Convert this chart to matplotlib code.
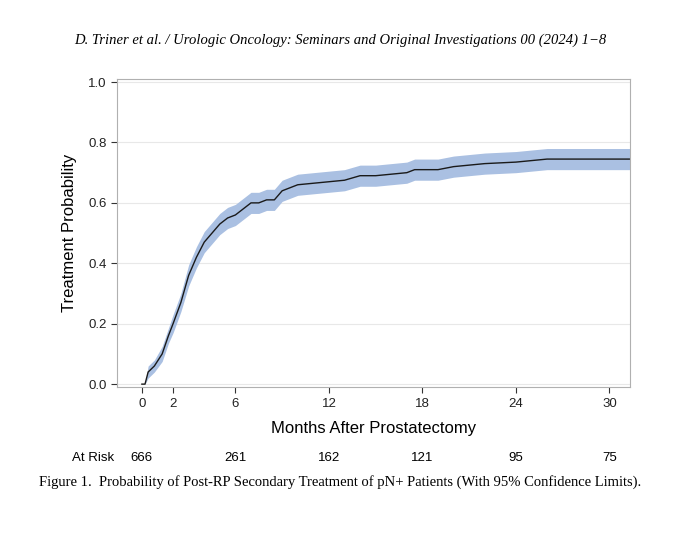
import matplotlib.pyplot as plt
import numpy as np

plt.rcParams['font.family'] = ['Liberation Sans', 'DejaVu Sans']

# curve (months, probability)
months = [0, 0.2, 0.4, 0.8, 1.3, 1.7, 2.0, 2.5, 3.0, 3.5, 4.0, 4.5, 5.0, 5.5, 6.0,
          6.5, 7.0, 7.5, 8.0, 8.5, 9.0, 9.5, 10, 11, 12, 13, 14, 15, 16, 17,
          17.5, 19, 20, 21, 22, 24, 25, 26, 27, 31.3]
prob = [0, 0.0, 0.04, 0.06, 0.10, 0.16, 0.20, 0.27, 0.36, 0.42, 0.47, 0.50, 0.53,
        0.55, 0.56, 0.58, 0.60, 0.60, 0.61, 0.61, 0.64, 0.65, 0.66, 0.665, 0.67,
        0.675, 0.69, 0.69, 0.695, 0.70, 0.71, 0.71, 0.72, 0.725, 0.73, 0.735,
        0.74, 0.745, 0.745, 0.745]
halfwidth = [0, 0.0, 0.02, 0.02, 0.025, 0.025, 0.03, 0.03, 0.035, 0.035, 0.035,
             0.035, 0.035, 0.035, 0.035, 0.035, 0.035, 0.035, 0.035, 0.035, 0.035,
             0.035, 0.035, 0.035, 0.035, 0.035, 0.035, 0.035, 0.035, 0.035, 0.035,
             0.035, 0.035, 0.035, 0.035, 0.035, 0.035, 0.035, 0.035, 0.035]
risk_months = [0, 6, 12, 18, 24, 30]
at_risk = [666, 261, 162, 121, 95, 75]
xticks = [0, 2, 6, 12, 18, 24, 30]

months = np.array(months)
prob = np.array(prob)
hw = np.array(halfwidth)

fig = plt.figure(figsize=(6.8, 5.34), dpi=100)
ax = fig.add_axes([0.172, 0.275, 0.754, 0.577])

ax.fill_between(months, prob - hw, prob + hw, color='#aac0e2', lw=0)
ax.plot(months, prob, color='#1a1a1a', lw=1)

ax.set_xlim(-1.6, 31.3)
ax.set_ylim(-0.01, 1.01)
ax.set_xticks(xticks)
ax.set_yticks([0, 0.2, 0.4, 0.6, 0.8, 1.0])
ax.set_yticklabels(['0.0', '0.2', '0.4', '0.6', '0.8', '1.0'])
ax.grid(axis='y', color='#e8e8e8', lw=0.8)
ax.set_axisbelow(True)
for s in ax.spines.values():
    s.set_color('#b0b0b0')
ax.tick_params(colors='#333333', labelsize=9.5, length=4)
for lab in ax.get_xticklabels() + ax.get_yticklabels():
    lab.set_color('#222222')
ax.set_xlabel('Months After Prostatectomy', fontsize=12, labelpad=8)
ax.set_ylabel('Treatment Probability', fontsize=12, labelpad=8)

# at risk row
trans = ax.get_xaxis_transform()
ax.text(-1.8, -0.23, 'At Risk', transform=trans, ha='right', va='center', fontsize=9.5)
for m, n in zip(risk_months, at_risk):
    ax.text(m, -0.23, str(n), transform=trans, ha='center', va='center', fontsize=9.5)

fig.text(0.5, 0.925, 'D. Triner et al. / Urologic Oncology: Seminars and Original Investigations 00 (2024) 1\u22128',
         ha='center', va='center', fontsize=10.5, style='italic', family='Liberation Serif')
fig.text(0.5, 0.097, 'Figure 1.  Probability of Post-RP Secondary Treatment of pN+ Patients (With 95% Confidence Limits).',
         ha='center', va='center', fontsize=10.5, family='Liberation Serif')

fig.savefig('out.png', dpi=100)
